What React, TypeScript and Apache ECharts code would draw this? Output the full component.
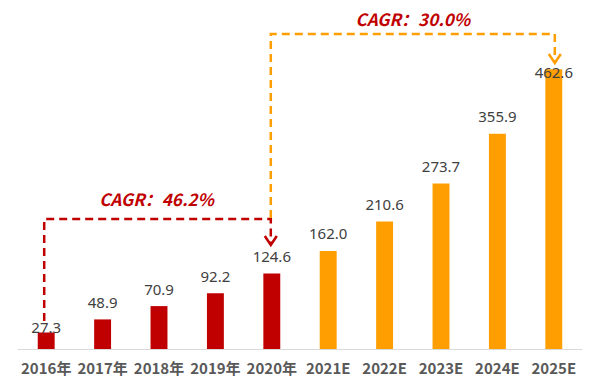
import React, { useEffect, useRef } from "react";
import * as echarts from "echarts";

const categories = ["2016年", "2017年", "2018年", "2019年", "2020年", "2021E", "2022E", "2023E", "2024E", "2025E"];
const values = [27.3, 48.9, 70.9, 92.2, 124.6, 162.0, 210.6, 273.7, 355.9, 462.6];
const actualCount = 5;
const cagrTexts = ["CAGR：46.2%", "CAGR：30.0%"];

const RED = "#C00000";
const ORANGE = "#FF9E00";

export default function App() {
  const ref = useRef<HTMLDivElement>(null);
  useEffect(() => {
    const chart = echarts.init(ref.current!, null, { renderer: "svg" });
    const data = values.map((v, i) => {
      const item: any = {
        value: v,
        itemStyle: { color: i < actualCount ? RED : ORANGE },
      };
      if (i === 0) item.label = { offset: [0, 12] };
      if (i === values.length - 1) item.label = { offset: [0, 20] };
      return item;
    });
    chart.setOption({
      animation: false,
      grid: { left: 18, right: 18, top: 46.5, bottom: 43 },
      xAxis: {
        type: "category",
        data: categories,
        axisLine: { lineStyle: { color: "#d9d9d9", width: 1 } },
        axisTick: { show: false },
        axisLabel: {
          interval: 0,
          color: "#595959",
          fontSize: 15,
          fontWeight: "bold",
          fontFamily: "Noto Sans CJK SC",
          margin: 11,
        },
      },
      yAxis: { type: "value", min: 0, max: 500, show: false, splitLine: { show: false } },
      series: [
        {
          type: "bar",
          data,
          barWidth: "30%",
          label: {
            show: true,
            position: "top",
            distance: 10,
            color: "#404040",
            fontSize: 15,
            fontFamily: "Noto Sans",
            formatter: (p: any) => Number(p.value).toFixed(1),
          },
        },
      ],
    });

    const px = (c: number, v: number) => chart.convertToPixel({ gridIndex: 0 }, [c, v]) as number[];
    const last = values.length - 1;
    const r0 = px(0, 0);
    const r4 = px(actualCount - 1, 0);
    const rLast = px(last, 0);
    const redY = 219;
    const orangeY = 34;
    const x0 = r0[0] - 2;
    const x4 = r4[0] - 1;
    const x9 = rLast[0] + 1;
    const dash = [8, 5];
    chart.setOption({
      graphic: [
        {
          type: "polyline",
          shape: { points: [[x0, 321], [x0, redY], [x4, redY], [x4, 244]] },
          style: { stroke: RED, lineWidth: 2.5, lineDash: dash, fill: null },
        },
        {
          type: "polyline",
          shape: { points: [[x4 - 6, 236], [x4, 245], [x4 + 6, 236]] },
          style: { stroke: RED, lineWidth: 2.5, fill: null },
        },
        {
          type: "polyline",
          shape: { points: [[x4, 218], [x4, orangeY], [x9, orangeY], [x9, 62]] },
          style: { stroke: ORANGE, lineWidth: 2.5, lineDash: dash, fill: null },
        },
        {
          type: "polyline",
          shape: { points: [[x9 - 6, 54], [x9, 63], [x9 + 6, 54]] },
          style: { stroke: ORANGE, lineWidth: 2.5, fill: null },
        },
        {
          type: "text",
          x: (x0 + x4) / 2 - 1,
          y: 198,
          style: {
            text: cagrTexts[0],
            fill: RED,
            font: "italic bold 17px 'Noto Sans CJK SC'",
            align: "center",
            verticalAlign: "middle",
          },
        },
        {
          type: "text",
          x: (x4 + x9) / 2,
          y: 18,
          style: {
            text: cagrTexts[1],
            fill: RED,
            font: "italic bold 17px 'Noto Sans CJK SC'",
            align: "center",
            verticalAlign: "middle",
          },
        },
      ],
    });
    return () => chart.dispose();
  }, []);
  return <div ref={ref} style={{ width: 600, height: 392, position: "absolute", left: 0, top: 0 }} />;
}
